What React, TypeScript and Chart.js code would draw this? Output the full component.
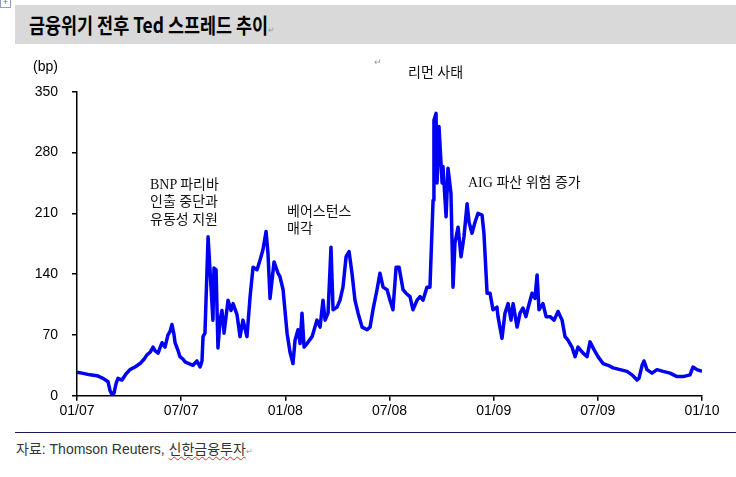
import React, { useEffect, useRef } from 'react';
import { Chart, registerables } from 'chart.js';

Chart.register(...registerables);

// x tick labels (every 6 months, starting Jan 2007)
const tickLabels = ['01/07', '07/07', '01/08', '07/08', '01/09', '07/09', '01/10'];

// months since Jan 2007
const months = [
  0.00, 0.29, 0.75, 1.15, 1.50, 1.79, 1.90, 2.02, 2.13, 2.25, 2.36, 2.59, 2.82, 3.05, 3.34, 3.63,
  3.86, 4.03, 4.21, 4.38, 4.49, 4.67, 4.78, 4.90, 5.07, 5.24, 5.36, 5.47, 5.59, 5.65, 5.82, 5.93,
  6.11, 6.22, 6.45, 6.68, 6.91, 7.09, 7.20, 7.26, 7.37, 7.55, 7.66, 7.83, 7.89, 8.01, 8.12, 8.24,
  8.35, 8.47, 8.70, 8.87, 8.99, 9.22, 9.39, 9.56, 9.79, 9.97, 10.14, 10.37, 10.54, 10.71, 10.89, 11.00,
  11.12, 11.35, 11.58, 11.69, 11.87, 12.10, 12.27, 12.44, 12.56, 12.73, 12.85, 12.96, 13.08, 13.25, 13.54, 13.82,
  14.00, 14.17, 14.29, 14.46, 14.63, 14.75, 14.98, 15.15, 15.32, 15.50, 15.67, 15.84, 16.01, 16.19, 16.42, 16.71,
  16.88, 17.05, 17.28, 17.45, 17.63, 17.86, 18.03, 18.20, 18.38, 18.55, 18.78, 18.95, 19.18, 19.35, 19.59, 19.76,
  19.93, 20.16, 20.33, 20.51, 20.56, 20.68, 20.74, 20.85, 21.03, 21.08, 21.26, 21.37, 21.54, 21.66, 21.77, 21.95,
  22.12, 22.29, 22.47, 22.58, 22.75, 22.93, 23.10, 23.33, 23.44, 23.62, 23.79, 23.96, 24.19, 24.25, 24.48, 24.65,
  24.83, 25.00, 25.12, 25.35, 25.52, 25.69, 25.86, 25.98, 26.21, 26.38, 26.50, 26.61, 26.84, 27.02, 27.25, 27.48,
  27.71, 27.94, 28.11, 28.28, 28.51, 28.69, 28.86, 29.15, 29.38, 29.55, 29.78, 30.01, 30.30, 30.59, 30.88, 31.28,
  31.68, 31.97, 32.26, 32.37, 32.55, 32.66, 32.83, 33.12, 33.41, 33.76, 34.16, 34.56, 34.91, 35.31, 35.48, 35.71,
  36.00,
];

// TED spread (bp)
const spread = [
  27, 26, 24, 23, 20, 16, 6, 1, 3, 14, 20, 18, 25, 30, 33, 37,
  42, 47, 50, 56, 52, 49, 55, 61, 56, 70, 74, 82, 70, 61, 52, 45,
  42, 39, 37, 35, 40, 33, 40, 68, 72, 183, 145, 87, 147, 145, 55, 87,
  98, 72, 110, 98, 106, 93, 68, 87, 68, 114, 148, 145, 156, 168, 189, 164,
  112, 154, 141, 137, 122, 72, 50, 37, 64, 76, 60, 95, 56, 60, 68, 87,
  79, 110, 87, 95, 171, 99, 102, 110, 125, 160, 166, 141, 110, 95, 79, 76,
  79, 99, 122, 141, 125, 122, 110, 99, 148, 148, 122, 118, 114, 99, 110, 114,
  110, 125, 125, 225, 317, 325, 245, 310, 245, 264, 206, 262, 233, 125, 176, 194,
  160, 183, 221, 200, 187, 200, 210, 208, 187, 118, 118, 99, 102, 91, 66, 95,
  106, 87, 106, 79, 95, 101, 91, 101, 118, 112, 139, 99, 106, 91, 91, 87,
  97, 87, 68, 64, 56, 45, 56, 49, 45, 62, 53, 45, 37, 35, 32, 30,
  28, 24, 18, 20, 35, 40, 30, 26, 30, 28, 26, 22, 22, 24, 33, 30,
  28,
];

const yMin = 0;
const yMax = 350;
const yStep = 70;

const annoFont = "'Liberation Serif', 'Noto Sans CJK KR', serif";
const sansFont = "'Liberation Sans', 'Noto Sans CJK KR', sans-serif";

export default function App() {
  const ref = useRef<HTMLCanvasElement>(null);

  useEffect(() => {
    const data = months.map((m, i) => ({ x: m, y: spread[i] }));
    const chart = new Chart(ref.current!, {
      type: 'line',
      data: {
        datasets: [
          {
            data,
            borderColor: '#0000f2',
            borderWidth: 3.5,
            pointRadius: 0,
            tension: 0,
            fill: false,
            borderJoinStyle: 'round',
          },
        ],
      },
      options: {
        animation: false,
        responsive: false,
        maintainAspectRatio: false,
        devicePixelRatio: 1,
        layout: { padding: { top: 41.7, right: 34, bottom: 0, left: 0 } },
        plugins: { legend: { display: false }, tooltip: { enabled: false } },
        scales: {
          x: {
            type: 'linear',
            min: 0,
            max: 36,
            afterFit: (s: any) => {
              s.height = 34.3;
            },
            ticks: {
              stepSize: 6,
              autoSkip: false,
              maxRotation: 0,
              padding: 2,
              color: '#000',
              font: { family: sansFont, size: 14 },
              callback: (v: any) => tickLabels[Math.round(Number(v) / 6)] ?? '',
            },
            grid: {
              drawOnChartArea: false,
              drawTicks: true,
              tickLength: 5,
              color: '#000',
              lineWidth: 1.5,
            },
            border: { display: true, color: '#000', width: 1.5 },
          },
          y: {
            min: yMin,
            max: yMax,
            afterFit: (s: any) => {
              s.width = 77;
            },
            ticks: {
              stepSize: yStep,
              padding: 14,
              color: '#000',
              font: { family: sansFont, size: 14 },
            },
            grid: {
              drawOnChartArea: false,
              drawTicks: true,
              tickLength: 5,
              color: '#000',
              lineWidth: 1.5,
            },
            border: { display: true, color: '#000', width: 1.5 },
          },
        },
      },
    });
    return () => chart.destroy();
  }, []);

  const abs = (left: number, top: number, extra: React.CSSProperties = {}): React.CSSProperties => ({
    position: 'absolute',
    left,
    top,
    whiteSpace: 'nowrap',
    ...extra,
  });

  return (
    <div style={{ position: 'absolute', left: 0, top: 0, width: 736, height: 477, background: '#fff', overflow: 'hidden' }}>
      {/* anchor icon */}
      <div style={abs(0, -3, { width: 9, height: 9, border: '1px solid #8aa0c0', fontSize: 9, lineHeight: '9px', textAlign: 'center', color: '#5070a0', fontFamily: sansFont })}>+</div>

      {/* title band */}
      <div style={abs(15, 5, { width: 721, height: 39, background: '#d9d9d9' })} />
      <div
        style={abs(29, 5, {
          height: 39,
          lineHeight: '39px',
          fontFamily: "'Noto Sans CJK KR', sans-serif",
          fontWeight: 700,
          fontSize: 21,
          color: '#000',
          transform: 'scaleX(0.83)',
          transformOrigin: 'left center',
        })}
      >
        금융위기 전후 Ted 스프레드 추이<span style={{ fontSize: 9, fontWeight: 400, color: '#999' }}>↵</span>
      </div>

      {/* chart */}
      <canvas ref={ref} width={736} height={380} style={{ position: 'absolute', left: 0, top: 50, width: 736, height: 380 }} />

      {/* unit */}
      <div style={abs(33, 58, { fontFamily: sansFont, fontSize: 14, lineHeight: '16px', color: '#000' })}>(bp)</div>

      {/* paragraph mark */}
      <div style={abs(374, 57, { fontSize: 9, color: '#999', fontFamily: sansFont })}>↵</div>

      {/* annotations */}
      <div style={abs(408, 64, { fontFamily: annoFont, fontSize: 14, lineHeight: '17px', color: '#111' })}>리먼 사태</div>
      <div style={abs(150, 175.5, { fontFamily: annoFont, fontSize: 14, lineHeight: '17.5px', color: '#111' })}>
        BNP 파리바
        <br />
        인출 중단과
        <br />
        유동성 지원
      </div>
      <div style={abs(287, 202.5, { fontFamily: annoFont, fontSize: 14, lineHeight: '17px', color: '#111' })}>
        베어스턴스
        <br />
        매각
      </div>
      <div style={abs(468, 174, { fontFamily: annoFont, fontSize: 14, lineHeight: '17px', color: '#111' })}>AIG 파산 위험 증가</div>

      {/* bottom rule */}
      <div style={abs(15, 431.5, { width: 721, height: 1, background: '#1a1a5a' })} />

      {/* source */}
      <div style={abs(16, 441, { fontFamily: sansFont, fontSize: 14, lineHeight: '16px', color: '#333' })}>
        자료: Thomson Reuters,{' '}
        <span style={{ textDecoration: 'underline wavy #d33', textDecorationThickness: 1, textUnderlineOffset: 2 }}>신한금융투자</span>
        <span style={{ fontSize: 8, color: '#999' }}>↵</span>
      </div>
    </div>
  );
}
